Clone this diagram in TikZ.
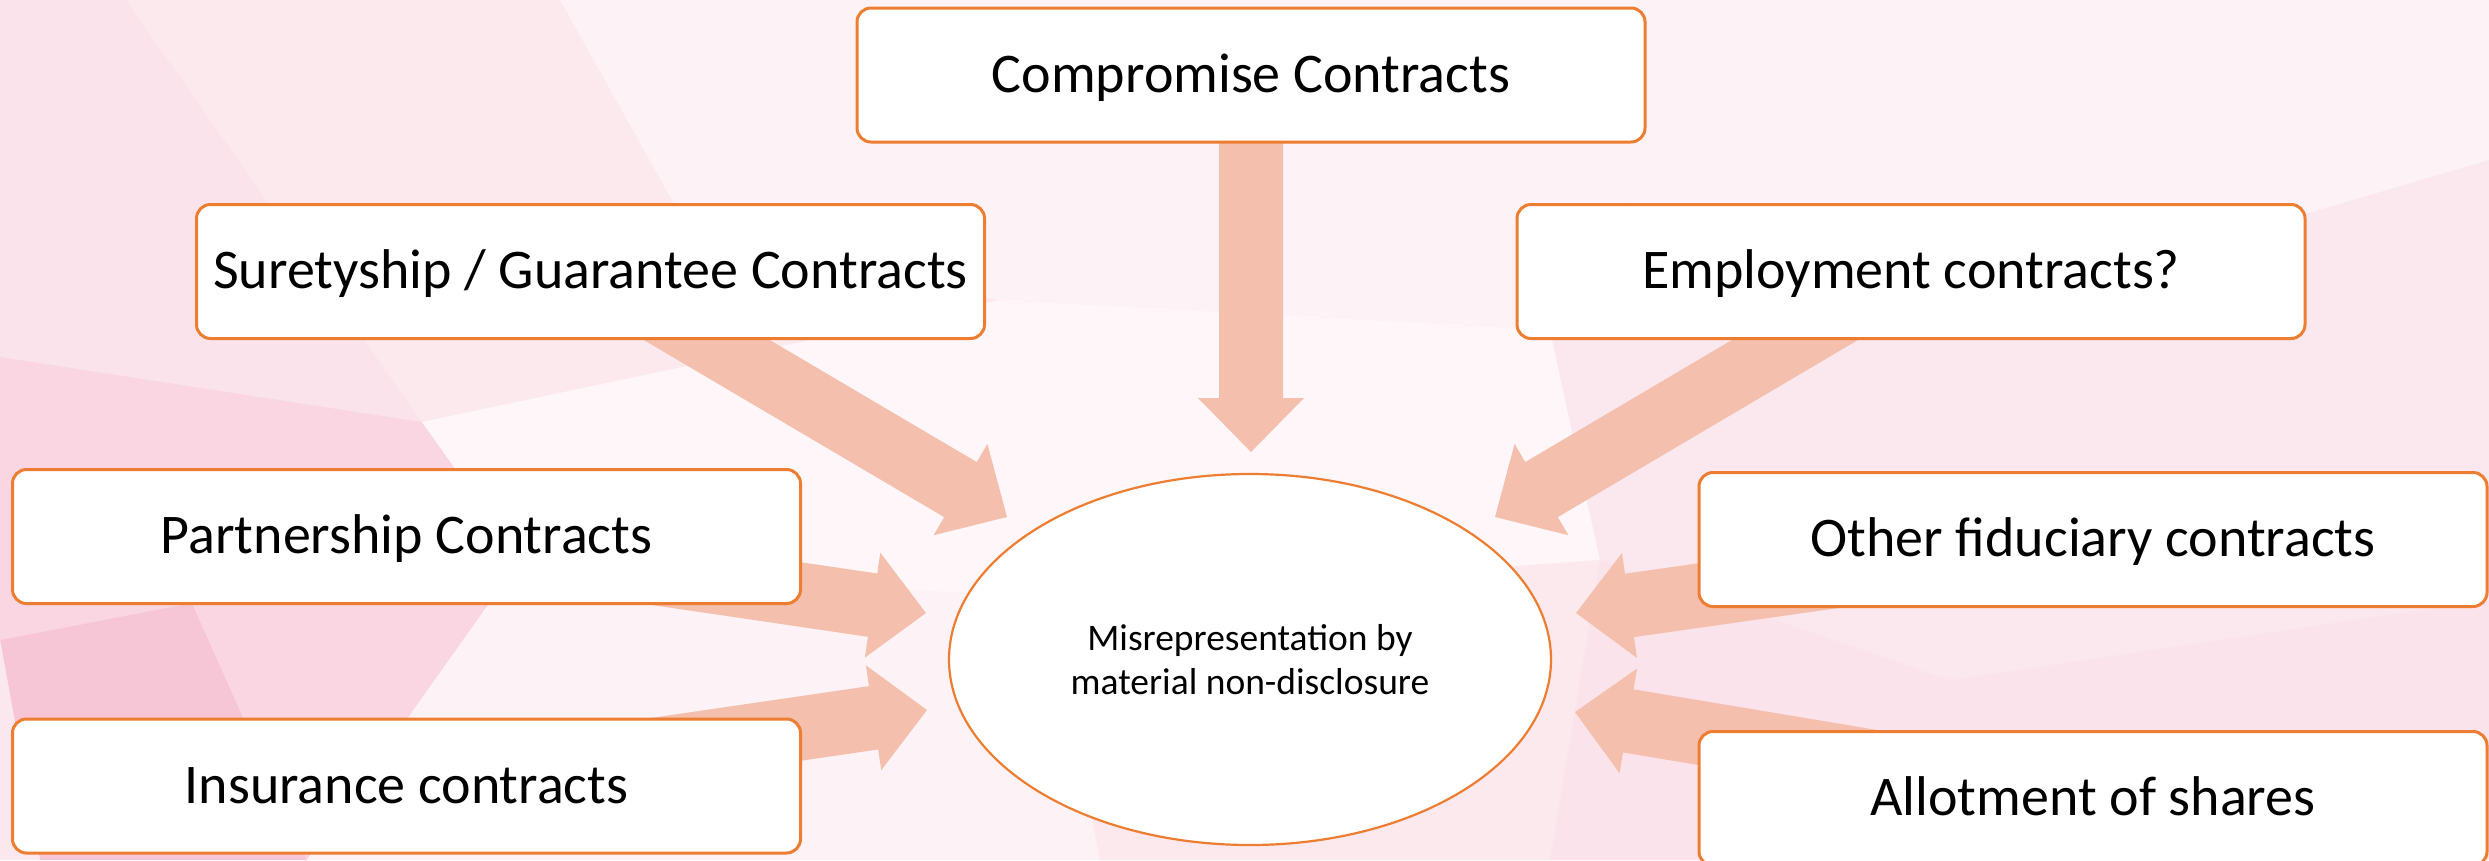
\documentclass[tikz,border=0pt]{standalone}
\usepackage{fontspec}
\setmainfont{Carlito}
\usetikzlibrary{calc,shapes.geometric}

\definecolor{edge}{RGB}{237,125,49}
\definecolor{flow}{RGB}{244,191,173}
\definecolor{bgbase}{RGB}{252,238,242}
\definecolor{pkA}{RGB}{250,227,235}
\definecolor{pkB}{RGB}{251,233,238}
\definecolor{pkC}{RGB}{249,214,225}
\definecolor{pkD}{RGB}{247,198,214}
\definecolor{pkE}{RGB}{253,243,246}
\definecolor{pkF}{RGB}{251,231,238}
\definecolor{pkG}{RGB}{254,246,248}

\pgfdeclarelayer{backdrop}
\pgfdeclarelayer{flows}
\pgfsetlayers{backdrop,flows,main}

\tikzset{
  topic/.style={draw=edge, line width=3pt, fill=white, rounded corners=14pt,
    minimum width=788pt, minimum height=134pt, inner sep=0pt,
    text height=46pt, text depth=12pt,
    font=\fontsize{56}{62}\selectfont},
  hub/.style={ellipse, draw=edge, line width=2.2pt, fill=white,
    minimum width=602pt, minimum height=371pt, inner sep=0pt, align=center,
    font=\fontsize{37.5}{44}\selectfont},
}

% block arrow from a node centre to a named tip
\newcommand{\blockflow}[2]{%
  \fill[flow]
    ($(#1)!32pt!90:(#2)$) --
    ($($(#2)!54pt!(#1)$)!32pt!90:(#2)$) --
    ($($(#2)!54pt!(#1)$)!53pt!90:(#2)$) --
    (#2) --
    ($($(#2)!54pt!(#1)$)!53pt!-90:(#2)$) --
    ($($(#2)!54pt!(#1)$)!32pt!-90:(#2)$) --
    ($(#1)!32pt!-90:(#2)$) -- cycle;}

\begin{document}
\begin{tikzpicture}[x=1pt,y=-1pt]
\useasboundingbox (0,0) rectangle (2489,860);

% faceted pink backdrop
\begin{pgfonlayer}{backdrop}
  \clip (0,0) rectangle (2489,860);
  \fill[bgbase] (0,0) rectangle (2489,860);
  % left half
  \fill[pkA] (0,0) -- (126,0) -- (422,422) -- (0,357) -- cycle;
  \fill[pkB] (126,0) -- (560,0) -- (700,250) -- (422,422) -- cycle;
  \fill[pkC] (0,357) -- (422,422) -- (192,603) -- (0,640) -- cycle;
  \fill[pkD] (0,640) -- (192,603) -- (307,860) -- (40,860) -- cycle;
  \fill[pkC] (192,603) -- (422,422) -- (520,560) -- (307,860) -- cycle;
  \fill[pkF] (0,640) -- (40,860) -- (0,860) -- cycle;
  \fill[pkB] (700,250) -- (1000,300) -- (422,422) -- cycle;
  \fill[pkG] (422,422) -- (1000,300) -- (1050,600) -- (520,560) -- cycle;
  \fill[pkE] (307,860) -- (520,560) -- (1050,600) -- (1100,860) -- cycle;
  % top middle
  \fill[pkE] (560,0) -- (1750,0) -- (1550,330) -- (1000,300) -- (700,250) -- cycle;
  \fill[pkG] (1000,300) -- (1550,330) -- (1600,560) -- (1050,600) -- cycle;
  \fill[pkB] (1050,600) -- (1600,560) -- (1550,860) -- (1100,860) -- cycle;
  % right half
  \fill[pkE] (1750,0) -- (2489,0) -- (2489,160) -- (2150,260) -- (1550,330) -- cycle;
  \fill[pkF] (1550,330) -- (2150,260) -- (2489,160) -- (2489,600) -- (1950,680) -- (1600,560) -- cycle;
  \fill[pkA] (1600,560) -- (1950,680) -- (2489,600) -- (2489,860) -- (1550,860) -- cycle;
\end{pgfonlayer}

% topics
\node[topic] (comp)  at (1251,75)     {Compromise Contracts};
\node[topic] (sure)  at (590.5,271.5) {Suretyship / Guarantee Contracts};
\node[topic] (empl)  at (1911,271.5)  {Employment contracts?};
\node[topic] (part)  at (406.5,536.5) {Partnership Contracts};
\node[topic] (insu)  at (406.5,786)   {Insurance contracts};
\node[topic] (othr)  at (2093,539.5)  {Other fiduciary contracts};
\node[topic] (allot) at (2093,798.5)  {Allotment of shares};

% centre
\node[hub] (mis) at (1250,659.5) {Misrepresentation by\\material non-disclosure};

% arrow tips around the centre
\coordinate (tcomp)  at (1251,452);
\coordinate (tsure)  at (1007,517);
\coordinate (templ)  at (1495,517);
\coordinate (tpart)  at (926,613);
\coordinate (tinsu)  at (927,710);
\coordinate (tothr)  at (1576,613);
\coordinate (tallot) at (1575,712);

\begin{pgfonlayer}{flows}
  \blockflow{comp}{tcomp}
  \blockflow{sure}{tsure}
  \blockflow{empl}{templ}
  \blockflow{part}{tpart}
  \blockflow{insu}{tinsu}
  \blockflow{othr}{tothr}
  \blockflow{allot}{tallot}
\end{pgfonlayer}
\end{tikzpicture}
\end{document}
